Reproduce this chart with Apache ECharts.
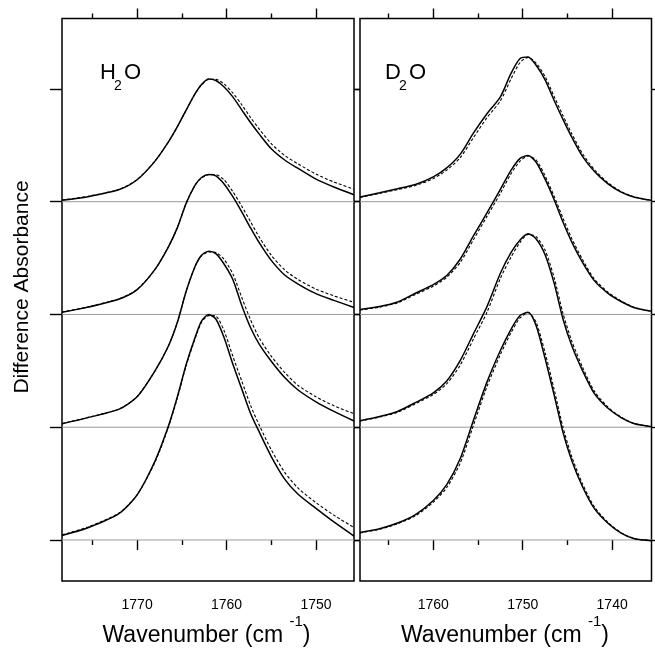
<!DOCTYPE html>
<html><head><meta charset="utf-8">
<script src="https://cdn.jsdelivr.net/npm/echarts@6/dist/echarts.min.js"></script>
<style>html,body{margin:0;padding:0;background:#fff}#c{width:655px;height:648px}</style>
</head><body><div id="c"></div><script>
// ---- data ----
const offsets = [3, 2, 1, 0];
const yTicks = [0, 1, 2, 3, 4];
const h2oMajor = [1770, 1760, 1750];
const h2oMinor = [1775, 1765, 1755];
const d2oMajor = [1760, 1750, 1740];
const d2oMinor = [1765, 1755, 1745];
const h2oRange = [1745.75, 1778.4];
const d2oRange = [1735.6, 1768.2];

const h2oWn = [1778.4, 1775.5, 1772, 1770, 1768, 1766.5, 1765.5, 1764.5, 1763.5, 1762.8, 1762, 1761.2, 1760.3, 1759.3, 1758.3, 1757.3, 1756.3, 1755, 1753.5, 1752, 1750, 1748, 1745.75];
const h2oSolid1 = [0.012,0.045,0.108,0.195,0.36,0.53,0.665,0.815,0.96,1.04,1.088,1.075,1.02,0.93,0.815,0.70,0.595,0.47,0.37,0.295,0.20,0.13,0.062];
const h2oDash1  = [0.015,0.048,0.11,0.197,0.36,0.53,0.665,0.815,0.96,1.035,1.085,1.085,1.045,0.965,0.86,0.745,0.64,0.515,0.41,0.335,0.245,0.175,0.11];
const h2oSolid2 = [0.02,0.065,0.137,0.22,0.40,0.60,0.77,0.99,1.15,1.215,1.242,1.23,1.16,1.045,0.91,0.765,0.63,0.48,0.35,0.27,0.185,0.125,0.062];
const h2oDash2  = [0.022,0.067,0.14,0.222,0.40,0.60,0.77,0.99,1.15,1.21,1.24,1.24,1.195,1.09,0.96,0.82,0.68,0.525,0.395,0.31,0.225,0.165,0.108];
const h2oSolid3 = [0.03,0.085,0.16,0.27,0.50,0.72,0.93,1.21,1.43,1.525,1.561,1.54,1.45,1.31,1.08,0.88,0.73,0.585,0.44,0.33,0.225,0.14,0.055];
const h2oDash3  = [0.032,0.087,0.162,0.272,0.50,0.72,0.93,1.21,1.43,1.52,1.555,1.55,1.49,1.36,1.15,0.95,0.785,0.63,0.485,0.37,0.27,0.19,0.12];
const h2oSolid4 = [0.04,0.108,0.235,0.40,0.70,1.01,1.27,1.56,1.80,1.94,2.0,1.96,1.80,1.56,1.34,1.12,0.95,0.74,0.54,0.405,0.28,0.16,0.035];
const h2oDash4  = [0.045,0.115,0.24,0.40,0.69,1.00,1.26,1.55,1.79,1.93,1.99,1.985,1.86,1.63,1.41,1.19,1.01,0.80,0.60,0.46,0.33,0.22,0.11];

const d2oWn = [1768.2, 1766, 1764, 1762, 1760, 1758.5, 1757, 1755.5, 1754, 1752.5, 1751.3, 1750.3, 1749.4, 1748.5, 1747.5, 1746.5, 1745.5, 1744.5, 1743.3, 1742, 1740.5, 1739, 1737.5, 1735.6];
const d2oSolid1 = [0.042,0.08,0.115,0.152,0.22,0.30,0.42,0.61,0.78,0.93,1.14,1.27,1.284,1.21,1.08,0.90,0.73,0.57,0.40,0.27,0.16,0.085,0.04,0.012];
const d2oDash1  = [0.038,0.074,0.108,0.143,0.205,0.28,0.39,0.57,0.745,0.895,1.09,1.235,1.28,1.23,1.11,0.935,0.765,0.60,0.425,0.285,0.17,0.09,0.042,0.012];
const d2oSolid2 = [0.044,0.07,0.11,0.188,0.265,0.345,0.49,0.70,0.90,1.11,1.28,1.385,1.41,1.35,1.20,1.02,0.82,0.64,0.46,0.30,0.19,0.115,0.06,0.028];
const d2oDash2  = [0.04,0.065,0.103,0.178,0.25,0.33,0.46,0.665,0.87,1.075,1.25,1.36,1.405,1.37,1.23,1.05,0.855,0.67,0.485,0.315,0.20,0.12,0.062,0.028];
const d2oSolid3 = [0.058,0.095,0.14,0.218,0.305,0.41,0.59,0.83,1.07,1.365,1.55,1.66,1.715,1.67,1.53,1.28,0.96,0.72,0.50,0.30,0.17,0.085,0.03,0.005];
const d2oDash3  = [0.055,0.09,0.133,0.208,0.29,0.385,0.55,0.785,1.02,1.32,1.51,1.64,1.71,1.69,1.57,1.33,1.01,0.76,0.53,0.32,0.18,0.09,0.032,0.005];
const d2oSolid4 = [0.066,0.10,0.15,0.225,0.35,0.49,0.72,1.065,1.40,1.68,1.87,1.99,2.02,1.90,1.61,1.29,0.955,0.70,0.47,0.28,0.15,0.06,0.01,-0.006];
const d2oDash4  = [0.063,0.095,0.143,0.215,0.335,0.465,0.68,1.02,1.36,1.645,1.84,1.97,2.015,1.93,1.66,1.34,1.0,0.735,0.495,0.295,0.158,0.065,0.012,-0.006];

// ---- build ----
const FONT = '"Liberation Sans", Arial, Helvetica, sans-serif';
const Y_MIN = -0.364, Y_MAX = 4.625;

function xAx(gi, range, vals, len, pos, labels) {
  return {
    type: 'value', gridIndex: gi, position: pos, min: range[0], max: range[1], inverse: true,
    axisLine: { show: false }, splitLine: { show: false },
    axisTick: { show: true, inside: false, length: len, customValues: vals, lineStyle: { color: '#000', width: 1.4 } },
    axisLabel: labels ? { show: true, customValues: vals, margin: 17, color: '#000', fontSize: 14, fontFamily: FONT,
      formatter: v => String(Math.round(v)) } : { show: false }
  };
}
function yAx(gi, pos, len) {
  return {
    type: 'value', gridIndex: gi, position: pos, min: Y_MIN, max: Y_MAX,
    axisLine: { show: false }, splitLine: { show: false }, axisLabel: { show: false },
    axisTick: { show: true, inside: false, length: len, customValues: yTicks, lineStyle: { color: '#000', width: 1.4 } }
  };
}
function curve(wn, vals, off, xi, yi, dashed) {
  return {
    type: 'line', xAxisIndex: xi, yAxisIndex: yi, silent: true, symbol: 'none', smooth: 0.25,
    data: wn.map((w, i) => [w, vals[i] + off]),
    lineStyle: { color: '#000', width: dashed ? 1.1 : 1.5, type: dashed ? [3, 2] : 'solid' },
    z: dashed ? 3 : 4
  };
}
function base(range, off, xi, yi) {
  return {
    type: 'line', xAxisIndex: xi, yAxisIndex: yi, silent: true, symbol: 'none',
    data: [[range[0], off], [range[1], off]],
    lineStyle: { color: '#9a9a9a', width: 1 }, z: 2
  };
}

const series = [];
const h2oS = [h2oSolid1, h2oSolid2, h2oSolid3, h2oSolid4];
const h2oD = [h2oDash1, h2oDash2, h2oDash3, h2oDash4];
const d2oS = [d2oSolid1, d2oSolid2, d2oSolid3, d2oSolid4];
const d2oD = [d2oDash1, d2oDash2, d2oDash3, d2oDash4];
offsets.forEach((off, k) => {
  series.push(base(h2oRange, off, 0, 0));
  series.push(base(d2oRange, off, 4, 2));
  series.push(curve(h2oWn, h2oD[k], off, 0, 0, true));
  series.push(curve(h2oWn, h2oS[k], off, 0, 0, false));
  series.push(curve(d2oWn, d2oD[k], off, 4, 2, true));
  series.push(curve(d2oWn, d2oS[k], off, 4, 2, false));
});

function xTitle(cx) {
  return {
    type: 'text', x: cx, y: 636, silent: true,
    style: {
      text: '{m|Wavenumber (cm }{s|-1}{m|)}', align: 'center', verticalAlign: 'middle', fill: '#000',
      rich: {
        m: { fontSize: 23, fontFamily: FONT, lineHeight: 44, fill: '#000' },
        s: { fontSize: 15, fontFamily: FONT, lineHeight: 15, verticalAlign: 'top', fill: '#000' }
      }
    }
  };
}
function chem(x, first) {
  return [
    { type: 'text', x: x, y: 73, silent: true, style: { text: first, font: '22px ' + FONT, fill: '#000', align: 'left', verticalAlign: 'middle' } },
    { type: 'text', x: x + 14, y: 86, silent: true, style: { text: '2', font: '14px ' + FONT, fill: '#000', align: 'left', verticalAlign: 'middle' } },
    { type: 'text', x: x + 24, y: 73, silent: true, style: { text: 'O', font: '22px ' + FONT, fill: '#000', align: 'left', verticalAlign: 'middle' } }
  ];
}

const option = {
  animation: false,
  backgroundColor: '#fff',
  grid: [
    { left: 62, top: 18.5, width: 292, height: 562.5, show: true, borderColor: '#000', borderWidth: 1.5, backgroundColor: 'transparent' },
    { left: 360, top: 18.5, width: 291.5, height: 562.5, show: true, borderColor: '#000', borderWidth: 1.5, backgroundColor: 'transparent' }
  ],
  xAxis: [
    xAx(0, h2oRange, h2oMajor, 10, 'bottom', true),
    xAx(0, h2oRange, h2oMinor, 5, 'bottom', false),
    xAx(0, h2oRange, h2oMajor, 10, 'top', false),
    xAx(0, h2oRange, h2oMinor, 5, 'top', false),
    xAx(1, d2oRange, d2oMajor, 10, 'bottom', true),
    xAx(1, d2oRange, d2oMinor, 5, 'bottom', false),
    xAx(1, d2oRange, d2oMajor, 10, 'top', false),
    xAx(1, d2oRange, d2oMinor, 5, 'top', false)
  ],
  yAxis: [
    yAx(0, 'left', 12),
    yAx(0, 'right', 6),
    yAx(1, 'left', 6),
    yAx(1, 'right', 8)
  ],
  series: series,
  graphic: [
    xTitle(206.5),
    xTitle(505),
    { type: 'text', x: 22, y: 287, rotation: Math.PI / 2, silent: true,
      style: { text: 'Difference Absorbance', font: '21px ' + FONT, fill: '#000', align: 'center', verticalAlign: 'middle' } }
  ].concat(chem(100, 'H')).concat(chem(385, 'D'))
};

const chart = echarts.init(document.getElementById('c'), null, { renderer: 'canvas' });
chart.setOption(option);
</script></body></html>
